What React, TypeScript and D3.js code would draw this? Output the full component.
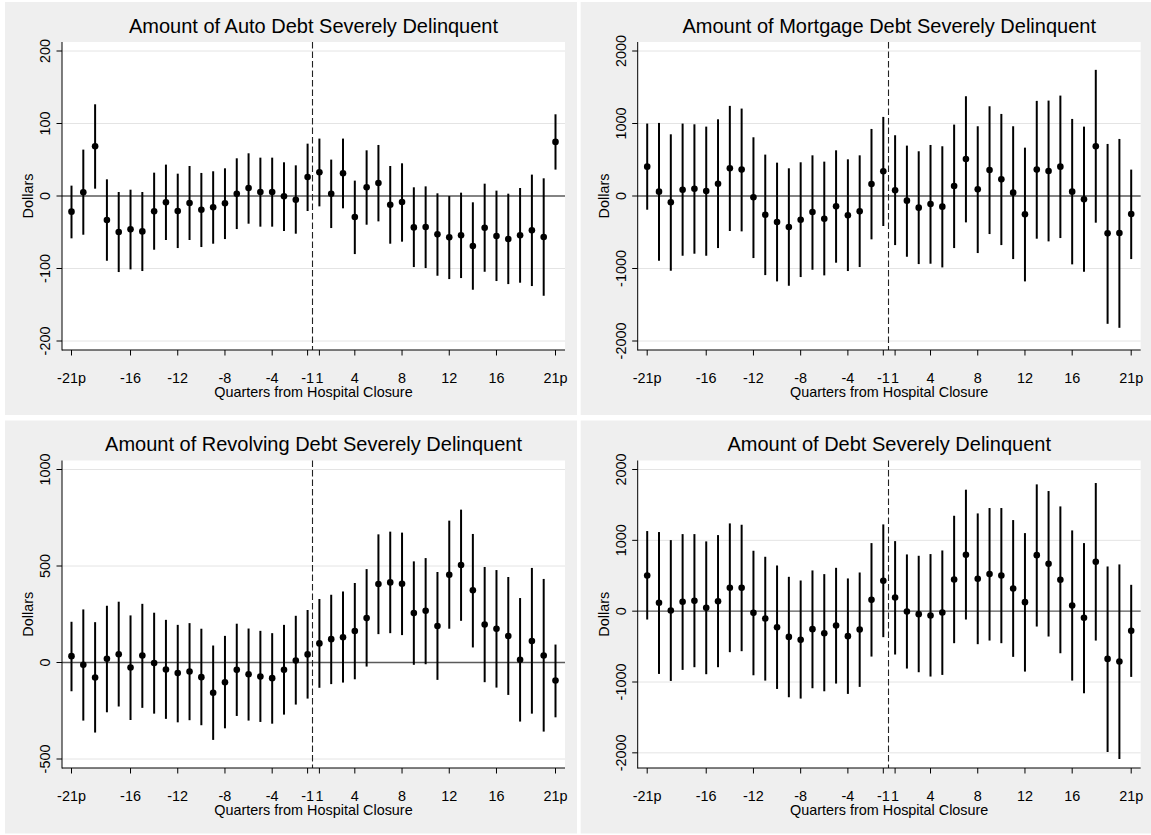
import React from "react";
import * as d3 from "d3";

const W = 1151;
const H = 835;

const quarters = [
  -21, -20, -19, -18, -17, -16, -15, -14, -13, -12, -11, -10, -9, -8, -7, -6, -5, -4, -3, -2, -1,
  1, 2, 3, 4, 5, 6, 7, 8, 9, 10, 11, 12, 13, 14, 15, 16, 17, 18, 19, 20, 21,
];
const xTickValues = [-21, -16, -12, -8, -4, -1, 1, 4, 8, 12, 16, 21];
const xTickLabels = ["-21p", "-16", "-12", "-8", "-4", "-1", "1", "4", "8", "12", "16", "21p"];

// Auto debt
const autoEst = [-21.6, 5.1, 68.6, -33.1, -49.7, -46, -48.8, -21.2, -8.7, -20.7, -9.7, -18.9, -15.6, -10.1, 3.2, 11, 5.5, 5.5, -0.5, -5.1, 26.2,
  32.7, 3.2, 31.3, -29, 12, 17.9, -12, -8.3, -43.3, -42.8, -52.9, -57, -54.3, -69, -43.7, -55.2, -59.4, -54.3, -47.4, -56.6, 74.6];
const autoHi = [14.3, 64, 126.5, 23, 5.5, 8.7, 5.5, 32.2, 43.3, 30.8, 41.4, 31.8, 34.1, 38.2, 52, 58.9, 52.9, 52.9, 46.5, 42.3, 72.2,
  79.2, 50.2, 79.2, 21.2, 63, 70.4, 41.4, 45.1, 12, 13.3, 3.7, 0, 4.6, -8.7, 17, 7.4, 3.2, 11, 29.5, 24.4, 112.7];
const autoLo = [-58.4, -53.4, 10.1, -89.3, -104.9, -101.2, -103.5, -74.1, -60.7, -71.8, -60.7, -70.4, -65.8, -59.4, -45.6, -38.2, -42.3, -42.3, -48.3, -52, -20.7,
  -14.3, -44.2, -17, -80.1, -39.6, -35, -65.8, -63, -98, -99.4, -110, -114.6, -113.2, -129.3, -104.5, -117.3, -121.5, -119.6, -124.2, -137.6, 36.4];
const autoTicks = [-200, -100, 0, 100, 200];

// Mortgage debt
const mortEst = [405, 60, -87, 87, 101, 69, 170, 382, 364, -18, -258, -359, -428, -327, -221, -313, -143, -267, -212, 166, 341,
  78, -64, -161, -110, -147, 138, 511, 92, 359, 230, 46, -253, 364, 345, 405, 60, -46, 686, -515, -511, -249];
const mortHi = [999, 1008, 851, 999, 989, 957, 1058, 1243, 1206, 810, 571, 460, 382, 465, 561, 474, 630, 506, 561, 925, 1091,
  838, 695, 617, 704, 686, 985, 1376, 962, 1238, 1132, 962, 667, 1312, 1316, 1385, 1063, 957, 1740, 718, 787, 364];
const mortLo = [-189, -893, -1031, -824, -796, -824, -718, -483, -488, -856, -1091, -1178, -1238, -1118, -1017, -1095, -920, -1035, -980, -598, -414,
  -677, -838, -939, -934, -985, -718, -364, -787, -525, -677, -870, -1178, -589, -626, -580, -943, -1045, -368, -1763, -1818, -870];
const mortTicks = [-2000, -1000, 0, 1000, 2000];

// Revolving debt
const revEst = [33, -12, -78, 19, 43, -26, 36, -3, -36, -55, -47, -76, -157, -102, -38, -61, -73, -81, -38, 10, 42,
  99, 121, 131, 163, 230, 407, 415, 408, 256, 268, 189, 455, 505, 374, 197, 175, 137, 14, 111, 36, -93];
const revHi = [211, 275, 209, 294, 315, 244, 304, 258, 221, 195, 204, 175, 88, 138, 201, 176, 164, 152, 195, 242, 272,
  329, 351, 368, 412, 484, 664, 678, 673, 524, 541, 469, 735, 792, 666, 495, 479, 443, 334, 490, 433, 93];
const revLo = [-149, -301, -363, -258, -228, -298, -235, -265, -292, -310, -299, -325, -401, -341, -277, -301, -308, -317, -270, -218, -187,
  -131, -112, -104, -87, -21, 147, 152, 142, -12, -9, -90, 175, 216, 78, -102, -130, -168, -306, -265, -358, -284];
const revTicks = [-500, 0, 500, 1000];

// Total debt
const debtEst = [504, 118, 9, 132, 146, 47, 141, 330, 330, -24, -104, -226, -363, -405, -254, -311, -203, -353, -259, 160, 429,
  193, -5, -42, -61, -19, 448, 796, 457, 523, 504, 320, 127, 791, 669, 443, 80, -94, 697, -674, -711, -278];
const debtHi = [1131, 1117, 1003, 1088, 1088, 985, 1074, 1239, 1220, 853, 768, 645, 485, 433, 575, 523, 612, 462, 546, 961, 1225,
  989, 801, 782, 806, 857, 1347, 1715, 1380, 1456, 1456, 1286, 1102, 1790, 1696, 1479, 1140, 961, 1809, 631, 660, 372];
const debtLo = [-118, -886, -985, -829, -791, -890, -791, -579, -565, -905, -980, -1098, -1215, -1234, -1088, -1131, -1022, -1168, -1069, -641, -367,
  -612, -810, -862, -923, -900, -452, -118, -466, -415, -452, -645, -853, -217, -358, -594, -980, -1159, -415, -1988, -2087, -928];
const debtTicks = [-2000, -1000, 0, 1000, 2000];

const FONT = "'Liberation Sans', Arial, Helvetica, sans-serif";

type PanelProps = {
  title: string;
  est: number[];
  lo: number[];
  hi: number[];
  yTicks: number[];
  left: number;
  right: number;
  top: number;
  bottom: number;
};

function Panel({ title, est, lo, hi, yTicks, left, right, top, bottom }: PanelProps) {
  const pad = 9;
  const x = d3.scalePoint<number>().domain(quarters).range([left + 9.5, right - 9.5]).padding(0);
  const dMin = Math.min(yTicks[0], d3.min(lo) as number);
  const dMax = Math.max(yTicks[yTicks.length - 1], d3.max(hi) as number);
  const y = d3.scaleLinear().domain([dMin, dMax]).range([bottom - pad, top + pad]);
  const xCut = Math.floor(((x(-1) as number) + (x(1) as number)) / 2) - 0.5;
  const midY = (top + bottom) / 2;
  return (
    <g>
      <rect x={left - 57} y={top - 40} width={572} height={413} fill="#efefef" />
      <rect x={left} y={top} width={right - left} height={bottom - top} fill="#ffffff" />
      {yTicks.filter((t) => t !== 0).map((t) => (
        <line key={"g" + t} x1={left} x2={right} y1={y(t)} y2={y(t)} stroke="#e4e4e4" strokeWidth={1} />
      ))}
      <line x1={left} x2={right} y1={y(0)} y2={y(0)} stroke="#5a5a5a" strokeWidth={1.3} />
      <line x1={xCut} x2={xCut} y1={top} y2={bottom} stroke="#222" strokeWidth={1.1} strokeDasharray="6.5,3" />
      {quarters.map((q, i) => (
        <line key={"w" + q} x1={x(q)} x2={x(q)} y1={y(lo[i])} y2={y(hi[i])} stroke="#000" strokeWidth={2} />
      ))}
      {quarters.map((q, i) => (
        <circle key={"d" + q} cx={x(q)} cy={y(est[i])} r={3.3} fill="#000" />
      ))}
      {/* axes */}
      <line x1={left} x2={left} y1={top} y2={bottom + 0.5} stroke="#000" strokeWidth={1} />
      <line x1={left} x2={right} y1={bottom} y2={bottom} stroke="#000" strokeWidth={1} />
      {yTicks.map((t) => (
        <g key={"yt" + t}>
          <line x1={left - 5.5} x2={left} y1={y(t)} y2={y(t)} stroke="#000" strokeWidth={1} />
          <text
            transform={`translate(${left - 12.2},${y(t)}) rotate(-90)`}
            textAnchor="middle"
            fontFamily={FONT}
            fontSize={14.4}
            fill="#000"
          >
            {t}
          </text>
        </g>
      ))}
      {xTickValues.map((v, i) => (
        <g key={"xt" + v}>
          <line x1={x(v)} x2={x(v)} y1={bottom} y2={bottom + 5.5} stroke="#000" strokeWidth={1} />
          <text x={x(v)} y={bottom + 32.5} textAnchor="middle" fontFamily={FONT} fontSize={14.4} fill="#000">
            {xTickLabels[i]}
          </text>
        </g>
      ))}
      <text x={(left + right) / 2} y={bottom + 47} textAnchor="middle" fontFamily={FONT} fontSize={14.4} fill="#000">
        Quarters from Hospital Closure
      </text>
      <text
        transform={`translate(${left - 29.2},${midY}) rotate(-90)`}
        textAnchor="middle"
        fontFamily={FONT}
        fontSize={14.4}
        fill="#000"
      >
        Dollars
      </text>
      <text x={(left + right) / 2} y={top - 9.5} textAnchor="middle" fontFamily={FONT} fontSize={20} fill="#000">
        {title}
      </text>
    </g>
  );
}

export default function App() {
  const L = [62, 565];
  const R = [637.7, 1140.7];
  const T = [42, 350];
  const B = [460.5, 768];
  return (
    <svg width={W} height={H} style={{ position: "absolute", left: 0, top: 0, display: "block", background: "#fff" }}>
      <Panel title="Amount of Auto Debt Severely Delinquent" est={autoEst} lo={autoLo} hi={autoHi} yTicks={autoTicks}
        left={L[0]} right={L[1]} top={T[0]} bottom={T[1]} />
      <Panel title="Amount of Mortgage Debt Severely Delinquent" est={mortEst} lo={mortLo} hi={mortHi} yTicks={mortTicks}
        left={R[0]} right={R[1]} top={T[0]} bottom={T[1]} />
      <Panel title="Amount of Revolving Debt Severely Delinquent" est={revEst} lo={revLo} hi={revHi} yTicks={revTicks}
        left={L[0]} right={L[1]} top={B[0]} bottom={B[1]} />
      <Panel title="Amount of Debt Severely Delinquent" est={debtEst} lo={debtLo} hi={debtHi} yTicks={debtTicks}
        left={R[0]} right={R[1]} top={B[0]} bottom={B[1]} />
    </svg>
  );
}
